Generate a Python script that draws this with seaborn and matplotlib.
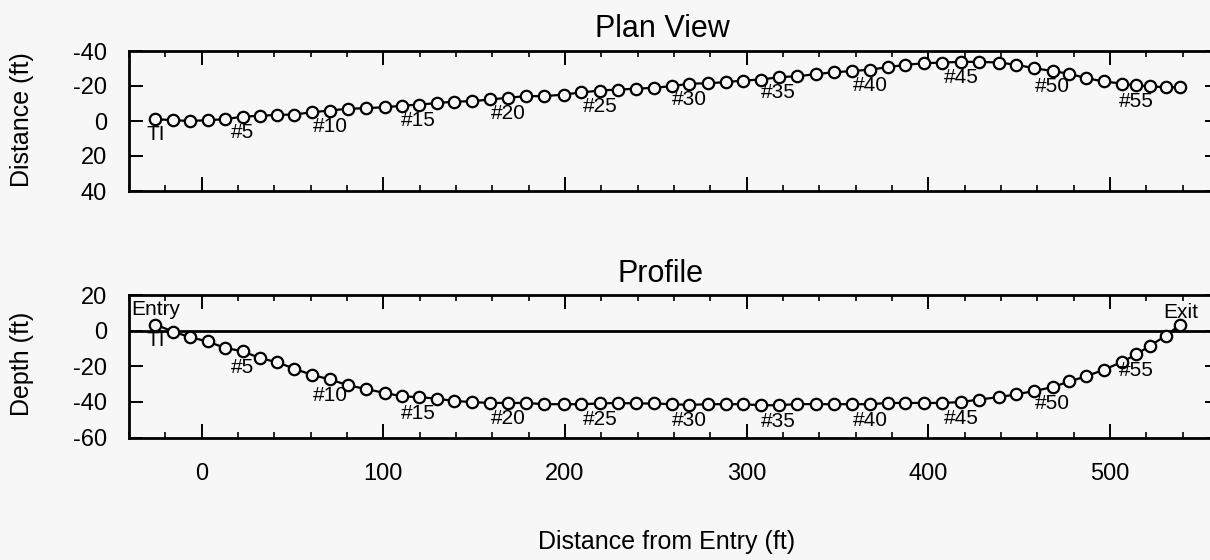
import matplotlib
matplotlib.use("Agg")
import matplotlib.pyplot as plt
from matplotlib.ticker import MultipleLocator
import pandas as pd
import seaborn as sns

# Survey stations along the bore: horizontal distance from entry (ft)
station_x = [-25.5, -15.6, -6.4, 3.3, 12.8, 22.6, 32.3, 41.5, 51.0, 60.6,
             70.6, 80.4, 90.4, 100.9, 110.3, 119.5, 129.5, 139.1, 148.8, 158.9,
             168.8, 178.5, 188.6, 199.3, 208.8, 219.3, 229.0, 239.1, 248.8, 258.9,
             268.3, 278.9, 288.6, 297.8, 307.9, 317.6, 327.7, 337.9, 347.9, 358.0,
             367.9, 377.6, 387.3, 397.4, 407.4, 418.0, 427.7, 439.1, 448.3, 458.3,
             468.5, 477.6, 486.8, 496.5, 506.4, 514.3, 522.2, 530.8, 538.7]

# Lateral offset from the design line (ft), plan view
plan_offset = [-1.0, -0.5, 0.0, -0.5, -1.0, -2.5, -3.0, -3.5, -3.7, -5.0,
               -6.0, -7.0, -7.3, -7.9, -8.7, -9.4, -10.2, -11.1, -11.3, -12.3,
               -13.3, -14.2, -14.2, -15.1, -16.3, -17.4, -18.0, -18.4, -19.0, -19.9,
               -21.3, -21.6, -22.2, -23.1, -23.7, -25.0, -25.6, -26.7, -27.9, -28.5,
               -29.4, -30.7, -32.1, -33.0, -33.4, -33.8, -33.8, -33.4, -32.1, -30.2,
               -28.5, -27.0, -24.5, -22.6, -21.4, -20.3, -19.8, -19.3, -19.2]

# Elevation relative to ground surface (ft), profile view
profile_depth = [3.4, -0.6, -3.7, -6.1, -9.7, -11.6, -15.5, -17.7, -21.4, -24.8,
                 -27.4, -30.6, -32.8, -35.0, -36.9, -37.3, -38.2, -39.5, -40.1, -40.6,
                 -40.6, -40.6, -41.3, -41.3, -41.3, -40.9, -40.6, -40.9, -40.9, -41.3,
                 -41.7, -41.3, -41.3, -41.3, -41.9, -41.9, -41.2, -41.3, -41.3, -41.3,
                 -41.3, -40.6, -40.6, -40.6, -40.6, -40.1, -38.7, -37.3, -35.8, -33.9,
                 -31.7, -28.5, -25.7, -22.0, -17.7, -13.4, -8.4, -2.8, 3.4]

# Stations that carry a tag
label_ids = [0, 5, 10, 15, 20, 25, 30, 35, 40, 45, 50, 55]
label_texts = ["TI", "#5", "#10", "#15", "#20", "#25", "#30", "#35",
               "#40", "#45", "#50", "#55"]

x_ticks = [0, 100, 200, 300, 400, 500]
plan_yticks = [-40, -20, 0, 20, 40]
profile_yticks = [20, 0, -20, -40, -60]

BG = "#f6f7f6"
W, H = 1210, 560

sns.set_style("ticks")
plt.rcParams["font.family"] = ["Liberation Sans", "DejaVu Sans"]
plt.rcParams["axes.unicode_minus"] = False
plt.rcParams["text.color"] = "black"

survey = pd.DataFrame({"x": station_x, "offset": plan_offset,
                       "depth": profile_depth})

fig = plt.figure(figsize=(W / 100, H / 100), dpi=100, facecolor=BG)
ax_plan = fig.add_axes([129 / W, (H - 191) / H, 1090 / W, 140 / H])
ax_prof = fig.add_axes([129 / W, (H - 437.5) / H, 1090 / W, 142.5 / H])

line_kw = dict(color="black", linewidth=1.6, marker="o", markersize=8.2,
               markerfacecolor=BG, markeredgecolor="black",
               markeredgewidth=1.6)
sns.lineplot(data=survey, x="x", y="offset", ax=ax_plan, sort=False,
             estimator=None, zorder=3, **line_kw)
sns.lineplot(data=survey, x="x", y="depth", ax=ax_prof, sort=False,
             estimator=None, zorder=3, **line_kw)

# ground surface
ax_prof.axhline(0, color="black", linewidth=2.0, zorder=1)

ax_plan.set_ylim(40, -40)
ax_prof.set_ylim(-60, 20)
ax_plan.set_yticks(plan_yticks)
ax_prof.set_yticks(profile_yticks)

for ax in (ax_plan, ax_prof):
    ax.set_facecolor(BG)
    ax.set_xlim(-40, 560)
    ax.set_xticks(x_ticks)
    ax.xaxis.set_minor_locator(MultipleLocator(20))
    ax.tick_params(which="both", direction="in", top=True, right=True,
                   color="black", labelcolor="black")
    ax.tick_params(which="major", length=10, width=1.4, labelsize=17)
    ax.tick_params(which="minor", length=4.5, width=1.2)
    ax.tick_params(axis="x", which="major", pad=18)
    ax.tick_params(axis="y", which="major", pad=16)
    for spine in ax.spines.values():
        spine.set_visible(True)
        spine.set_color("black")
        spine.set_linewidth(2.0)
    ax.set_xlabel("")
    ax.set_ylabel("")

ax_plan.tick_params(axis="x", labelbottom=False)

LABEL_FS = 15
for i, t in zip(label_ids, label_texts):
    ax_plan.annotate(t, (station_x[i], plan_offset[i]), xytext=(0, -11.2),
                     textcoords="offset points", ha="center", va="center",
                     fontsize=LABEL_FS, color="black")
    ax_prof.annotate(t, (station_x[i], profile_depth[i]), xytext=(0, -11.5),
                     textcoords="offset points", ha="center", va="center",
                     fontsize=LABEL_FS, color="black")

ax_prof.annotate("Entry", (station_x[0], profile_depth[0]), xytext=(0, 10.5),
                 textcoords="offset points", ha="center", va="center",
                 fontsize=LABEL_FS, color="black")
ax_prof.annotate("Exit", (station_x[-1], profile_depth[-1]), xytext=(0, 8.5),
                 textcoords="offset points", ha="center", va="center",
                 fontsize=LABEL_FS, color="black")

fig.text(662 / W, (H - 37) / H, "Plan View", ha="center", va="baseline",
         fontsize=22, color="black")
fig.text(660 / W, (H - 282) / H, "Profile", ha="center", va="baseline",
         fontsize=22, color="black")
fig.text(667 / W, (H - 542) / H, "Distance from Entry (ft)", ha="center",
         va="center", fontsize=18, color="black")
fig.text(22.5 / W, (H - 120) / H, "Distance (ft)", rotation=90, ha="center",
         va="center", fontsize=18, color="black")
fig.text(22.5 / W, (H - 364) / H, "Depth (ft)", rotation=90, ha="center",
         va="center", fontsize=18, color="black")

fig.savefig("out.png", dpi=100, facecolor=BG)
